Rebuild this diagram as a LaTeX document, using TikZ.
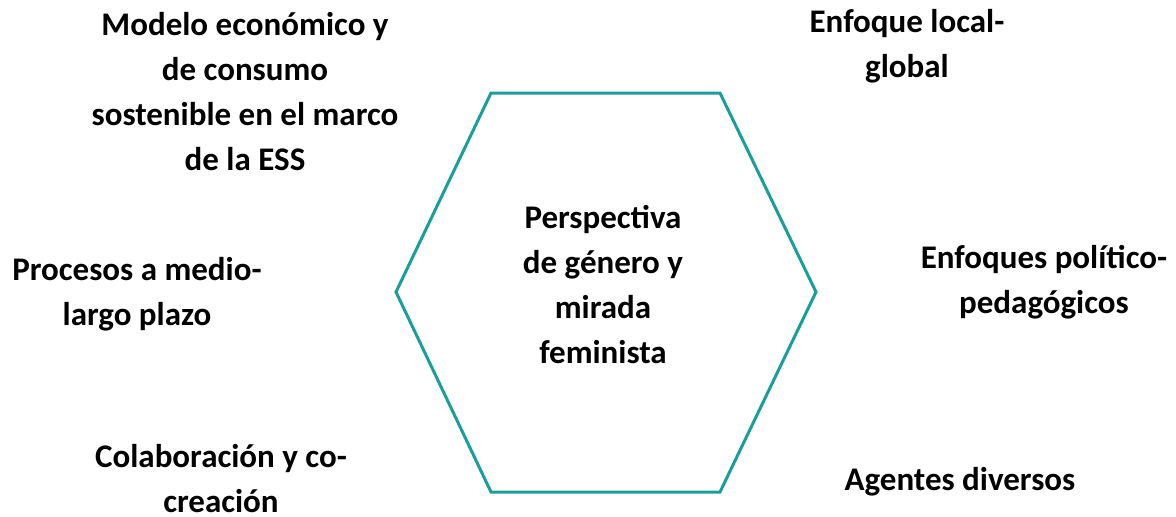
\documentclass[tikz,border=0pt]{standalone}
\usepackage{fontspec}
\setmainfont{Carlito}
\definecolor{verdeazul}{HTML}{1A9E9A}

\begin{document}
\begin{tikzpicture}[
    x=1pt, y=-1pt,
    etiqueta/.style={align=center, inner sep=0pt, font=\fontsize{33}{45}\selectfont\bfseries},
    hexagono/.style={draw=verdeazul, line width=3pt, line join=miter}
]
\useasboundingbox (0,0) rectangle (1176,517);

% Hexagon corners
\coordinate (h1) at (491,93);
\coordinate (h2) at (720,93);
\coordinate (h3) at (816,292);
\coordinate (h4) at (720,492);
\coordinate (h5) at (491,492);
\coordinate (h6) at (396,292);
\draw[hexagono] (h1) -- (h2) -- (h3) -- (h4) -- (h5) -- (h6) -- cycle;

% Centre
\node[etiqueta] (centro) at (603,285) {Perspectiva\\de género y\\mirada\\feminista};

% Left side
\node[etiqueta] (modelo) at (245,92) {Modelo económico y\\de consumo\\sostenible en el marco\\de la ESS};
\node[etiqueta] (procesos) at (137,294) {Procesos a medio-\\largo plazo};
\node[etiqueta] (colab) at (221,479) {Colaboración y co-\\creación};

% Right side
\node[etiqueta] (local) at (907,46) {Enfoque local-\\global};
\node[etiqueta] (politico) at (1044,282) {Enfoques político-\\pedagógicos};
\node[etiqueta] (agentes) at (960,482) {Agentes diversos};

\end{tikzpicture}
\end{document}
